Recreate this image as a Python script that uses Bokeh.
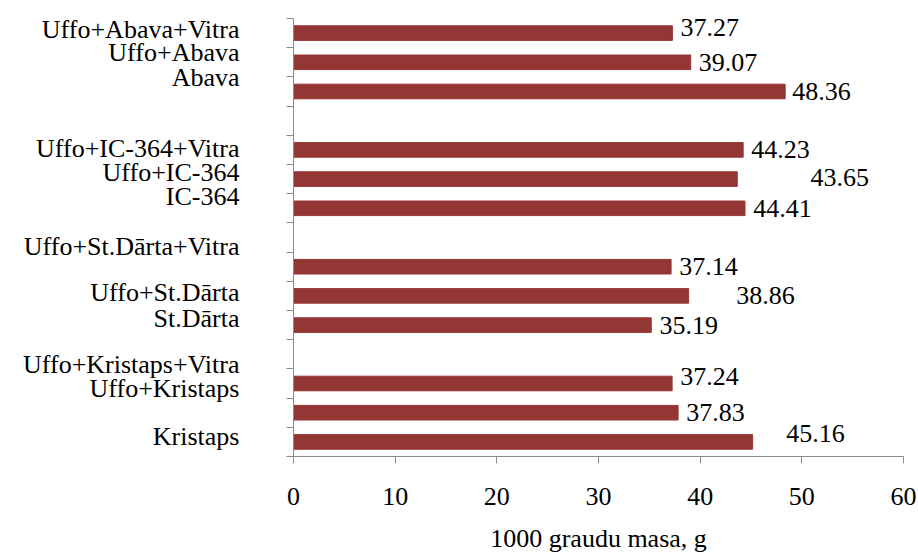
from bokeh.plotting import figure
from bokeh.models import ColumnDataSource, Range1d, FixedTicker, CustomJSTickFormatter
from bokeh.core.properties import value
from bokeh.embed import file_html
from bokeh.resources import INLINE

# Variants, top to bottom, in four groups of three
names = [
    "Uffo+Abava+Vitra", "Uffo+Abava", "Abava",
    "Uffo+IC-364+Vitra", "Uffo+IC-364", "IC-364",
    "Uffo+St.Dārta+Vitra", "Uffo+St.Dārta", "St.Dārta",
    "Uffo+Kristaps+Vitra", "Uffo+Kristaps", "Kristaps",
]
# 1000 grain mass, g
masses = [37.27, 39.07, 48.36, 44.23, 43.65, 44.41,
          37.14, 38.86, 35.19, 37.24, 37.83, 45.16]
x_ticks = [0, 10, 20, 30, 40, 50, 60]

# label placement tweaks (slot units / axis units)
name_dy = [0.12, 0.34, 0.48, 0.05, 0.23, 0.40, 0.69, 0.12, 0.23, 0.65, 0.83, 0.18]
val_dx = [0.8, 0.8, 0.7, 0.8, 7.2, 0.8, 0.8, 4.7, 0.8, 0.8, 0.8, 3.3]
val_dy = [0.19, 0.0, 0.0, 0.0, 0.07, 0.0, 0.0, 0.0, 0.0, 0.24, 0.0, 0.3]

GROUP = 3
n_slots = len(names) + len(names) // GROUP - 1  # one empty slot between groups
slot_y = []
for i in range(len(names)):
    g, k = divmod(i, GROUP)
    slot_y.append(n_slots - 1 - (g * (GROUP + 1) + k) + 0.5)

src = ColumnDataSource(dict(
    y=slot_y,
    v=masses,
    tx=[m + d for m, d in zip(masses, val_dx)],
    ty=[y + d for y, d in zip(slot_y, val_dy)],
    label=[f"{m:.2f}" for m in masses],
))

FONT = "'Liberation Serif', 'Times New Roman', serif"
AXIS_COLOR = "#8c8c8c"
BAR_COLOR = "#943634"

p = figure(width=918, height=555, output_backend="svg", toolbar_location=None,
           x_range=Range1d(0, 60), y_range=Range1d(0, n_slots),
           min_border_left=293, min_border_right=15,
           min_border_top=18, min_border_bottom=99)
p.outline_line_color = None
p.xgrid.visible = False
p.ygrid.visible = False
p.background_fill_color = "white"
p.border_fill_color = "white"

p.hbar(y="y", right="v", left=0, height=0.5, color=BAR_COLOR, source=src)
p.text(x="tx", y="ty", text="label", source=src,
       text_font=value(FONT), text_font_size="26px",
       text_baseline="middle", text_align="left", text_color="black")

# category axis: names as major labels, slot boundaries as minor ticks
label_pos = [y + d for y, d in zip(slot_y, name_dy)]
ya = p.yaxis[0]
ya.ticker = FixedTicker(ticks=label_pos, minor_ticks=list(range(n_slots + 1)))
ya.formatter = CustomJSTickFormatter(args=dict(pos=label_pos, names=names), code="""
    for (let i = 0; i < pos.length; i++) {
        if (Math.abs(pos[i] - tick) < 1e-6) return names[i];
    }
    return "";
""")
ya.major_tick_out = 0
ya.major_tick_in = 0
ya.minor_tick_out = 7
ya.minor_tick_in = 0
ya.minor_tick_line_color = AXIS_COLOR
ya.axis_line_color = AXIS_COLOR
ya.major_label_standoff = 47
ya.major_label_text_font = FONT
ya.major_label_text_font_size = "26px"
ya.major_label_text_color = "black"

xa = p.xaxis[0]
xa.ticker = FixedTicker(ticks=x_ticks)
xa.major_tick_out = 7
xa.major_tick_in = 0
xa.minor_tick_line_color = None
xa.major_tick_line_color = AXIS_COLOR
xa.axis_line_color = AXIS_COLOR
xa.major_label_standoff = 24
xa.major_label_text_font = FONT
xa.major_label_text_font_size = "26px"
xa.major_label_text_color = "black"
xa.axis_label = "1000 graudu masa, g"
xa.axis_label_text_font = FONT
xa.axis_label_text_font_size = "26px"
xa.axis_label_text_font_style = "normal"
xa.axis_label_text_color = "black"
xa.axis_label_standoff = 16

open("out.html", "w").write(file_html(p, INLINE))
